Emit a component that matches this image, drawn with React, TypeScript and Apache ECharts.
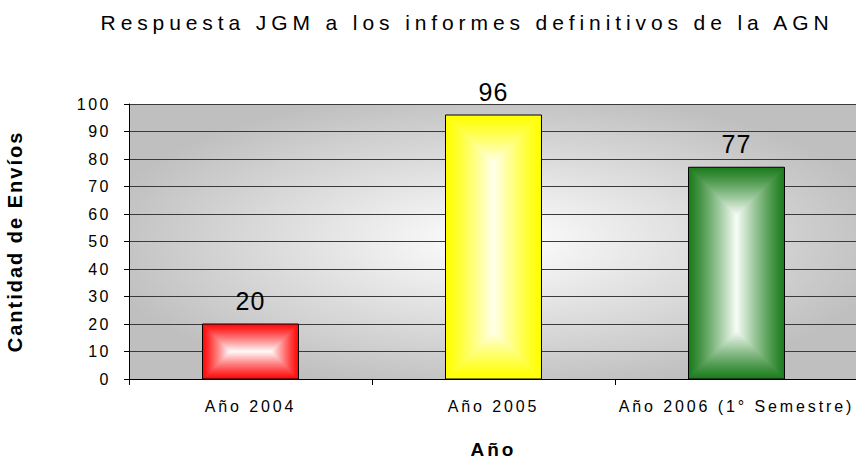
import React, { useEffect, useRef } from "react";
import * as echarts from "echarts";

const TITLE = "Respuesta JGM a los informes definitivos de la AGN";
const Y_NAME = "Cantidad de Envíos";
const X_NAME = "Año";
const CATEGORIES = ["Año 2004", "Año 2005", "Año 2006 (1° Semestre)"];
const VALUES = [20, 96, 77];
const Y_TICKS = ["0", "10", "20", "30", "40", "50", "60", "70", "80", "90", "100"];

const EDGE_COLORS = [
  [255, 10, 10],
  [255, 255, 0],
  [30, 125, 30],
];
const CENTER_COLORS = [
  [255, 255, 255],
  [255, 255, 240],
  [250, 255, 250],
];

const FONT = "'Liberation Sans', Arial, sans-serif";
const VALUE_FONT_SIZE = 25;

function spacingFor(s: string, size: number): number | null {
  if (size === VALUE_FONT_SIZE) return 1;
  if (s === TITLE) return 4.9;
  if (s === Y_NAME) return 2;
  if (s === X_NAME) return 3;
  if (CATEGORIES.includes(s)) return 2.9;
  if (Y_TICKS.includes(s)) return 2.5;
  return null;
}

export default function App() {
  const ref = useRef<HTMLDivElement>(null);
  useEffect(() => {
    const el = ref.current!;
    const chart = echarts.init(el, undefined, { renderer: "svg" });
    const option: any = {
      animation: false,
      backgroundColor: "#ffffff",
      textStyle: { fontFamily: FONT },
      graphic: [
        {
          type: "text",
          x: 467,
          y: 22,
          style: {
            text: TITLE,
            fill: "#000",
            font: `21px ${FONT}`,
            align: "center",
            verticalAlign: "middle",
          },
        },
      ],
      grid: {
        left: 129,
        right: -2,
        top: 104,
        bottom: 85,
        outerBoundsMode: "none",
        containLabel: false,
        show: true,
        borderWidth: 0,
        backgroundColor: new echarts.graphic.RadialGradient(0.5, 0.5, 0.55, [
          { offset: 0, color: "#ffffff" },
          { offset: 1, color: "#bfbfbf" },
        ]),
      },
      xAxis: {
        type: "category",
        data: CATEGORIES,
        boundaryGap: true,
        name: X_NAME,
        nameLocation: "middle",
        nameGap: 61,
        nameTextStyle: {
          fontFamily: FONT,
          fontWeight: "bold",
          fontSize: 19,
          color: "#000",
        },
        axisLine: { show: true, lineStyle: { color: "#000", width: 1 } },
        axisTick: { show: true, alignWithLabel: false, length: 6, lineStyle: { color: "#000" } },
        axisLabel: {
          color: "#000",
          fontSize: 16,
          fontFamily: FONT,
          margin: 19,
          interval: 0,
        },
        splitLine: { show: false },
      },
      yAxis: {
        type: "value",
        min: 0,
        max: 100,
        interval: 10,
        name: Y_NAME,
        nameLocation: "middle",
        nameRotate: 90,
        nameGap: 104,
        nameMoveOverlap: false,
        nameTextStyle: {
          fontFamily: FONT,
          fontWeight: "bold",
          fontSize: 20,
          color: "#000",
        },
        axisLine: { show: true, lineStyle: { color: "#000", width: 1 } },
        axisTick: { show: true, inside: false, length: 5, lineStyle: { color: "#000" } },
        axisLabel: {
          color: "#000",
          fontSize: 16,
          fontFamily: FONT,
          margin: 18,
        },
        splitLine: { show: true, lineStyle: { color: "#3a3a3a", width: 1.2 } },
      },
      series: [
        {
          type: "custom",
          encode: { x: 0, y: 1 },
          data: VALUES.map((v, i) => [i, v]),
          renderItem: (params: any, api: any) => {
            const i = params.dataIndex;
            const v = api.value(1);
            const p0 = api.coord([i, 0]);
            const p1 = api.coord([i, v]);
            const band = api.size([1, 0])[0];
            const w = band * 0.395;
            const x = p0[0] - w / 2;
            const y = p1[1];
            const h = p0[1] - p1[1];
            const e = EDGE_COLORS[i];
            const c = CENTER_COLORS[i];
            const children: any[] = [];
            const N = 40;
            const maxInset = Math.min(w, h) / 2;
            for (let k = 0; k < N; k++) {
              const t = k / N;
              const inset = t * maxInset;
              const f = Math.pow(t, 1.15);
              const col = `rgb(${Math.round(e[0] + (c[0] - e[0]) * f)},${Math.round(
                e[1] + (c[1] - e[1]) * f
              )},${Math.round(e[2] + (c[2] - e[2]) * f)})`;
              children.push({
                type: "rect",
                shape: { x: x + inset, y: y + inset, width: w - 2 * inset, height: h - 2 * inset },
                style: { fill: col },
              });
            }
            children.push({
              type: "rect",
              shape: { x, y, width: w, height: h },
              style: { fill: "none", stroke: "#000", lineWidth: 1 },
            });
            children.push({
              type: "text",
              x: p0[0],
              y: y - 23,
              style: {
                text: String(v),
                fill: "#000",
                font: `${VALUE_FONT_SIZE}px ${FONT}`,
                align: "center",
                verticalAlign: "middle",
              },
            });
            return { type: "group", children };
          },
        },
      ],
    };
    chart.setOption(option);
    const applySpacing = () => {
      el.querySelectorAll("text").forEach((t) => {
        const size = parseFloat(getComputedStyle(t).fontSize);
        const sp = spacingFor((t.textContent || "").trim(), Math.round(size));
        if (sp != null) t.setAttribute("letter-spacing", String(sp));
      });
    };
    applySpacing();
    chart.on("finished", applySpacing);
    const raf = requestAnimationFrame(applySpacing);
    return () => {
      cancelAnimationFrame(raf);
      chart.dispose();
    };
  }, []);
  return (
    <div
      ref={ref}
      style={{ position: "fixed", left: 0, top: 0, width: 856, height: 464 }}
    />
  );
}
